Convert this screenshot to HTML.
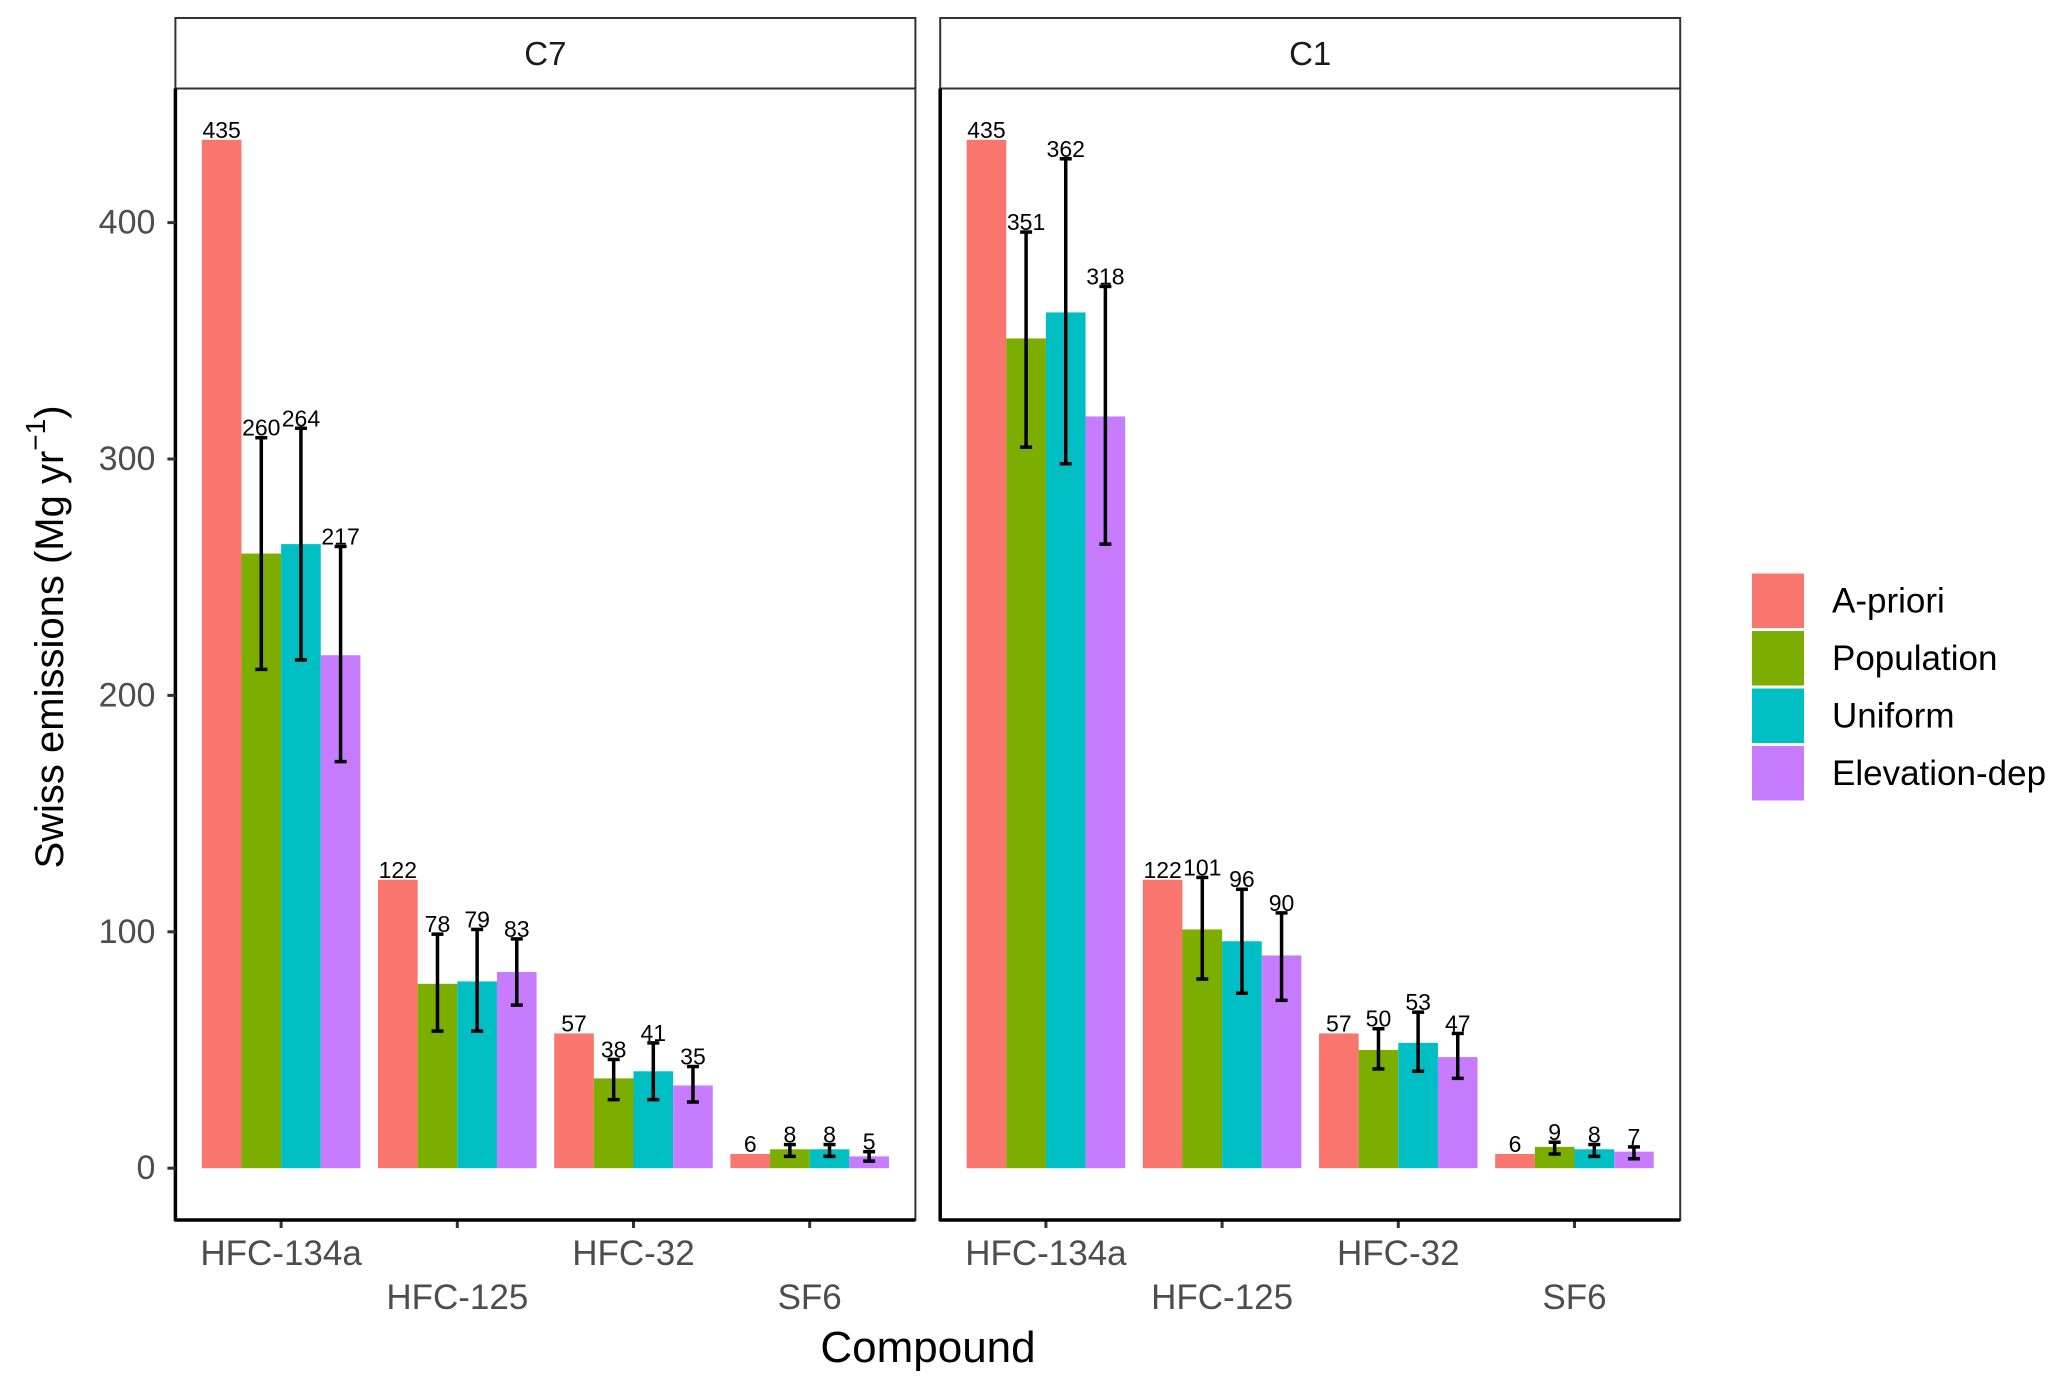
<!DOCTYPE html>
<html><head><meta charset="utf-8">
<style>
html,body{margin:0;padding:0;background:#fff;}
svg{display:block;font-family:"Liberation Sans",Arial,sans-serif;}
</style></head>
<body>
<svg id="chart" width="2067" height="1390" viewBox="0 0 2067 1390" xmlns="http://www.w3.org/2000/svg">
  <rect x="0" y="0" width="2067" height="1390" fill="#fff"/>
  <g id="plot"></g>
  <text x="50" y="637" transform="rotate(-90 50 637)" text-anchor="middle" dominant-baseline="central" font-size="40" fill="#000">Swiss emissions (Mg yr<tspan dy="-15" font-size="28">−1</tspan><tspan dy="15">)</tspan></text>
  <text x="928" y="1362" text-anchor="middle" font-size="44" fill="#000">Compound</text>
  <g id="legend"></g>
</svg>
<script>
const panels = ["C7", "C1"];
const compounds = ["HFC-134a", "HFC-125", "HFC-32", "SF6"];
const seriesNames = ["A-priori", "Population", "Uniform", "Elevation-dep"];
const colors = ["#F8766D", "#7CAE00", "#00BFC4", "#C77CFF"];
const c7Values = [[435,260,264,217],[122,78,79,83],[57,38,41,35],[6,8,8,5]];
const c1Values = [[435,351,362,318],[122,101,96,90],[57,50,53,47],[6,9,8,7]];
const c7Lower = [[null,211,215,172],[null,58,58,69],[null,29,29,28],[null,5,5,3]];
const c7Upper = [[null,309,313,263],[null,99,101,97],[null,46,53,43],[null,10,10,7]];
const c1Lower = [[null,305,298,264],[null,80,74,71],[null,42,41,38],[null,6,5,4]];
const c1Upper = [[null,396,427,373],[null,123,118,108],[null,59,66,57],[null,11,10,9]];
const yTicks = [0,100,200,300,400];

const values = [c7Values, c1Values];
const lowers = [c7Lower, c1Lower];
const uppers = [c7Upper, c1Upper];
const NS = "http://www.w3.org/2000/svg";
function mk(tag, attrs, parent){const e=document.createElementNS(NS,tag);for(const k in attrs)e.setAttribute(k,attrs[k]);parent.appendChild(e);return e;}

const panelLeft = [175.4, 940.2];
const panelW = 740;
const stripTop = 18, stripBot = 88.5, panelBot = 1220;
const y0 = 1168.2, yPer = 236.4/100;
function yScale(v){return y0 - v*yPer;}
function xCenter(p,i){const unit = panelW/4.2; return panelLeft[p] + (i+0.6)*unit;}
const unit = panelW/4.2, barW = unit*0.9/4;

const plot = document.getElementById('plot');
panels.forEach((pn,p)=>{
  const L = panelLeft[p];
  const g = mk('g',{},plot);
  
  
  const strip = mk('rect',{x:L,y:stripTop,width:panelW,height:stripBot-stripTop,fill:'#fff',stroke:'#333','stroke-width':2},g);
  
  
  const st = mk('text',{x:L+panelW/2,y:(stripTop+stripBot)/2,'text-anchor':'middle','dominant-baseline':'central','font-size':33,fill:'#1a1a1a'},g);
  st.textContent = pn;
  
  
  compounds.forEach((c,i)=>{
    const cx = xCenter(p,i);
    seriesNames.forEach((s,j)=>{
      const v = values[p][i][j];
      const bx = cx - 2*barW + j*barW;
      const r = mk('rect',{x:bx,y:yScale(v),width:barW,height:y0-yScale(v),fill:colors[j]},g);
      
      
      const lo = lowers[p][i][j], hi = uppers[p][i][j];
      const bc = bx + barW/2;
      let labelY = yScale(v);
      if(lo!==null){
        const eg = mk('g',{stroke:'#000','stroke-width':3.5,fill:'none'},g);
        
        
        mk('line',{x1:bc,x2:bc,y1:yScale(hi),y2:yScale(lo)},eg);
        mk('line',{x1:bc-6,x2:bc+6,y1:yScale(hi),y2:yScale(hi)},eg);
        mk('line',{x1:bc-6,x2:bc+6,y1:yScale(lo),y2:yScale(lo)},eg);
        labelY = Math.min(labelY, yScale(hi));
      }
      const t = mk('text',{x:bc,y:labelY-2,'text-anchor':'middle','font-size':23,fill:'#000'},g);
      t.textContent = v;
      
      
    });
    mk('line',{x1:cx,x2:cx,y1:panelBot,y2:panelBot+8,stroke:'#333','stroke-width':3},g);
    const xl = mk('text',{x:cx,y:(i%2===0)?1265:1309,'text-anchor':'middle','font-size':35,fill:'#4d4d4d'},g);
    xl.textContent = c;
    
    
  });
  const pb = mk('rect',{x:L,y:stripBot,width:panelW,height:panelBot-stripBot,fill:'none',stroke:'#333','stroke-width':2},g);
  
  
  mk('line',{x1:L-1,x2:L+panelW,y1:panelBot,y2:panelBot,stroke:'#000','stroke-width':3.5},g);
  mk('line',{x1:L,x2:L,y1:stripBot,y2:panelBot+1,stroke:'#000','stroke-width':3.5},g);
  if(p===0){
    yTicks.forEach(tv=>{
      mk('line',{x1:L-8,x2:L,y1:yScale(tv),y2:yScale(tv),stroke:'#333','stroke-width':3},g);
      const yl = mk('text',{x:L-20,y:yScale(tv),'text-anchor':'end','dominant-baseline':'central','font-size':34,fill:'#4d4d4d'},g);
      yl.textContent = tv;
      
      
    });
  }
});

const legend = document.getElementById('legend');
seriesNames.forEach((s,j)=>{
  const y = 572 + j*57.5;
  const e = mk('g',{},legend);
  
  
  mk('rect',{x:1752,y:y+1.5,width:52,height:54.5,fill:colors[j]},e);
  const t = mk('text',{x:1832,y:y+29,'dominant-baseline':'central','font-size':35,fill:'#000'},e);
  t.textContent = s;
});
</script>
</body></html>
